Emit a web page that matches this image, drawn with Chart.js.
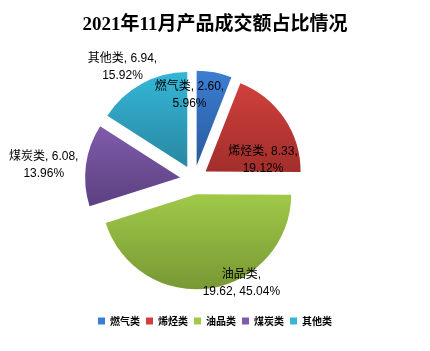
<!DOCTYPE html>
<html>
<head>
<meta charset="utf-8">
<script src="https://cdn.jsdelivr.net/npm/chart.js@4/dist/chart.umd.min.js"></script>
<style>
  html, body { margin: 0; padding: 0; background: #fff; }
  #wrap { width: 430px; height: 351px; }
</style>
</head>
<body>
<div id="wrap"><canvas id="pieChart" width="430" height="351"></canvas></div>
<script>
// Chart data
const categories = ['燃气类', '烯烃类', '油品类', '煤炭类', '其他类'];
const amounts = [2.60, 8.33, 19.62, 6.08, 6.94];
const percentLabels = ['5.96%', '19.12%', '45.04%', '13.96%', '15.92%'];

// colours (top / bottom of each slice's gradient)
const topColors = ['#3c7ed3', '#cf403c', '#a0c948', '#7f5cab', '#35b6d7'];
const bottomColors = ['#2a5a9c', '#a22e2b', '#789834', '#5c4081', '#2888a2'];

const pieRadius = 95;
const sliceGap = [14, 14, 15, 14, 14];      // pixels each slice is pulled out
const pieShiftX = -21;                       // pie sits a bit left of the title/legend centre

// data label placement: angle (deg from top, clockwise) and distance as share of radius
const labelAngle = [-3, 73, 155, 276, 328];
const labelDist = [0.91, 0.76, 1.18, 1.59, 1.42];

const total = amounts.reduce((a, b) => a + b, 0);

function labelLines(i) {
    const v = amounts[i].toFixed(2);
    if (i === 2) return [categories[i] + ',', v + ', ' + percentLabels[i]];
    return [categories[i] + ', ' + v + ',', percentLabels[i]];
}

// vertical extent of a slice (before it is pulled out), used for its gradient
function sliceYRange(i, cy) {
    let start = -Math.PI / 2;
    for (let k = 0; k < i; k++) start += amounts[k] / total * Math.PI * 2;
    const end = start + amounts[i] / total * Math.PI * 2;
    const ys = [cy, cy + Math.sin(start) * pieRadius, cy + Math.sin(end) * pieRadius];
    [Math.PI / 2, -Math.PI / 2, Math.PI * 1.5].forEach(a => {
        if (a > start && a < end) ys.push(cy + Math.sin(a) * pieRadius);
    });
    return [Math.min(...ys), Math.max(...ys)];
}

function sliceColor(context) {
    const chart = context.chart;
    const area = chart.chartArea;
    const i = context.dataIndex;
    if (!area) return topColors[i];
    const cy = (area.top + area.bottom) / 2;
    const [y0, y1] = sliceYRange(i, cy);
    const g = chart.ctx.createLinearGradient(0, y0, 0, y1);
    g.addColorStop(0, topColors[i]);
    g.addColorStop(1, bottomColors[i]);
    return g;
}

// draws the exploded slices and the data labels
const explodePlugin = {
    id: 'explodeSlices',
    beforeDatasetsDraw(chart) {
        chart.ctx.save();
        chart.ctx.translate(pieShiftX, 0);
    },
    beforeDatasetDraw(chart, args) {
        const ctx = chart.ctx;
        args.meta.data.forEach((arc, i) => {
            const mid = (arc.startAngle + arc.endAngle) / 2;
            ctx.save();
            ctx.translate(Math.cos(mid) * sliceGap[i], Math.sin(mid) * sliceGap[i]);
            arc.draw(ctx, chart.chartArea);
            ctx.restore();
        });
        return false;
    },
    afterDatasetsDraw(chart) {
        const ctx = chart.ctx;
        const meta = chart.getDatasetMeta(0);
        ctx.font = '12px "Liberation Sans", "Noto Sans CJK SC", sans-serif';
        ctx.fillStyle = '#000';
        ctx.textAlign = 'center';
        ctx.textBaseline = 'middle';
        meta.data.forEach((arc, i) => {
            const a = labelAngle[i] * Math.PI / 180;
            const d = labelDist[i] * arc.outerRadius;
            const x = arc.x + Math.sin(a) * d;
            const y = arc.y - Math.cos(a) * d + 2;
            const lines = labelLines(i);
            lines.forEach((t, j) => {
                ctx.fillText(t, x, y + (j - (lines.length - 1) / 2) * 17);
            });
        });
        ctx.restore();
    }
};

const chart = new Chart(document.getElementById('pieChart'), {
    type: 'pie',
    data: {
        labels: categories,
        datasets: [{
            data: amounts,
            backgroundColor: sliceColor,
            borderWidth: 0
        }]
    },
    options: {
        responsive: false,
        animation: false,
        radius: pieRadius,
        layout: { padding: { left: 0, right: 0, top: 0, bottom: 15 } },
        plugins: {
            title: {
                display: true,
                text: '2021年11月产品成交额占比情况',
                color: '#000',
                font: { family: '"Liberation Serif", "Noto Sans CJK SC", serif', size: 19, weight: 'bold' },
                padding: { top: 14, bottom: 12 }
            },
            legend: {
                position: 'bottom',
                labels: {
                    color: '#000',
                    boxWidth: 7,
                    boxHeight: 7,
                    padding: 6,
                    font: { family: '"Noto Sans CJK SC", sans-serif', size: 10, weight: 'bold' },
                    generateLabels(chart) {
                        return categories.map((c, i) => ({
                            text: c,
                            fillStyle: topColors[i],
                            strokeStyle: topColors[i],
                            lineWidth: 0,
                            index: i
                        }));
                    }
                }
            },
            tooltip: { enabled: false }
        }
    },
    plugins: [explodePlugin]
});
</script>
</body>
</html>
